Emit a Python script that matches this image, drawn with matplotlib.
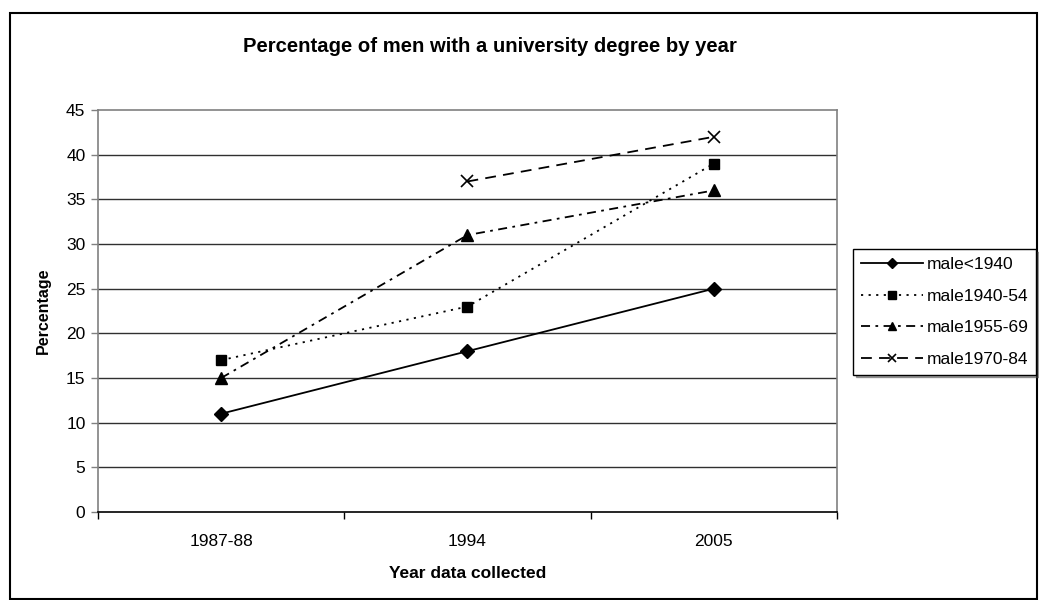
import matplotlib
matplotlib.use("Agg")
import matplotlib.pyplot as plt
from matplotlib.patches import Rectangle
import numpy as np

plt.rcParams['font.family'] = ['Liberation Sans', 'DejaVu Sans']

categories = ["1987-88", "1994", "2005"]
male_pre1940 = [11, 18, 25]
male_1940_54 = [17, 23, 39]
male_1955_69 = [15, 31, 36]
male_1970_84 = [np.nan, 37, 42]
y_ticks = [0, 5, 10, 15, 20, 25, 30, 35, 40, 45]

W, H = 1039, 600
fig = plt.figure(figsize=(W / 100, H / 100), dpi=100)

# outer chart border
fig.patches.append(Rectangle((10 / W, 1 / H), 1027 / W, (H - 14) / H,
                             transform=fig.transFigure, fill=False,
                             edgecolor='black', linewidth=1.5))

left, right, top, bottom = 98, 837, 110, 512
ax = fig.add_axes([left / W, (H - bottom) / H, (right - left) / W, (bottom - top) / H])
x = np.arange(len(categories))

lw = 1.3
ax.plot(x, male_pre1940, color='black', linestyle='-', linewidth=lw,
        marker='D', markersize=7, label='male<1940')
ax.plot(x, male_1940_54, color='black', linestyle=(0, (1.2, 3)), linewidth=lw,
        marker='s', markersize=6.5, label='male1940-54')
ax.plot(x, male_1955_69, color='black', linestyle=(0, (5, 3, 1.5, 3)), linewidth=lw,
        marker='^', markersize=8, label='male1955-69')
ax.plot(x, male_1970_84, color='black', linestyle=(0, (6, 4)), linewidth=lw,
        marker='x', markersize=8, markeredgewidth=1.2, label='male1970-84')

ax.set_xlim(-0.5, len(categories) - 0.5)
ax.set_ylim(0, 45)
ax.set_yticks(y_ticks)
ax.set_xticks(x)
ax.set_xticklabels(categories)
ax.set_xticks(np.arange(-0.5, len(categories)), minor=True)
ax.tick_params(axis='x', which='major', length=0, pad=16, labelsize=12.5)
ax.tick_params(axis='x', which='minor', length=5, width=1, color='black')
ax.tick_params(axis='y', length=5, width=1, color='#808080', labelsize=12.5, pad=4)

for v in y_ticks[1:-1]:
    ax.axhline(v, color='#303030', linewidth=1.0, zorder=0)

for s in ['top', 'right', 'left']:
    ax.spines[s].set_color('#808080')
    ax.spines[s].set_linewidth(1.2)
ax.spines['bottom'].set_color('black')
ax.spines['bottom'].set_linewidth(1.2)

ax.set_ylabel('Percentage', fontsize=11.5, fontweight='bold', labelpad=11)
ax.set_xlabel('Year data collected', fontsize=12.5, fontweight='bold', labelpad=12)
fig.text(490 / W, (H - 46) / H,
         'Percentage of men with a university degree by year',
         ha='center', va='center', fontsize=14.6, fontweight='bold')

leg = fig.legend(loc='upper left', bbox_to_anchor=(853 / W, (H - 249) / H),
                 frameon=True, fancybox=False, shadow=True, fontsize=12.5,
                 handlelength=3.6, handletextpad=0.2, labelspacing=0.95,
                 borderpad=0.45, borderaxespad=0, markerscale=0.8)
leg.get_frame().set_edgecolor('black')
leg.get_frame().set_linewidth(1.0)

fig.savefig('out.png', dpi=100)
